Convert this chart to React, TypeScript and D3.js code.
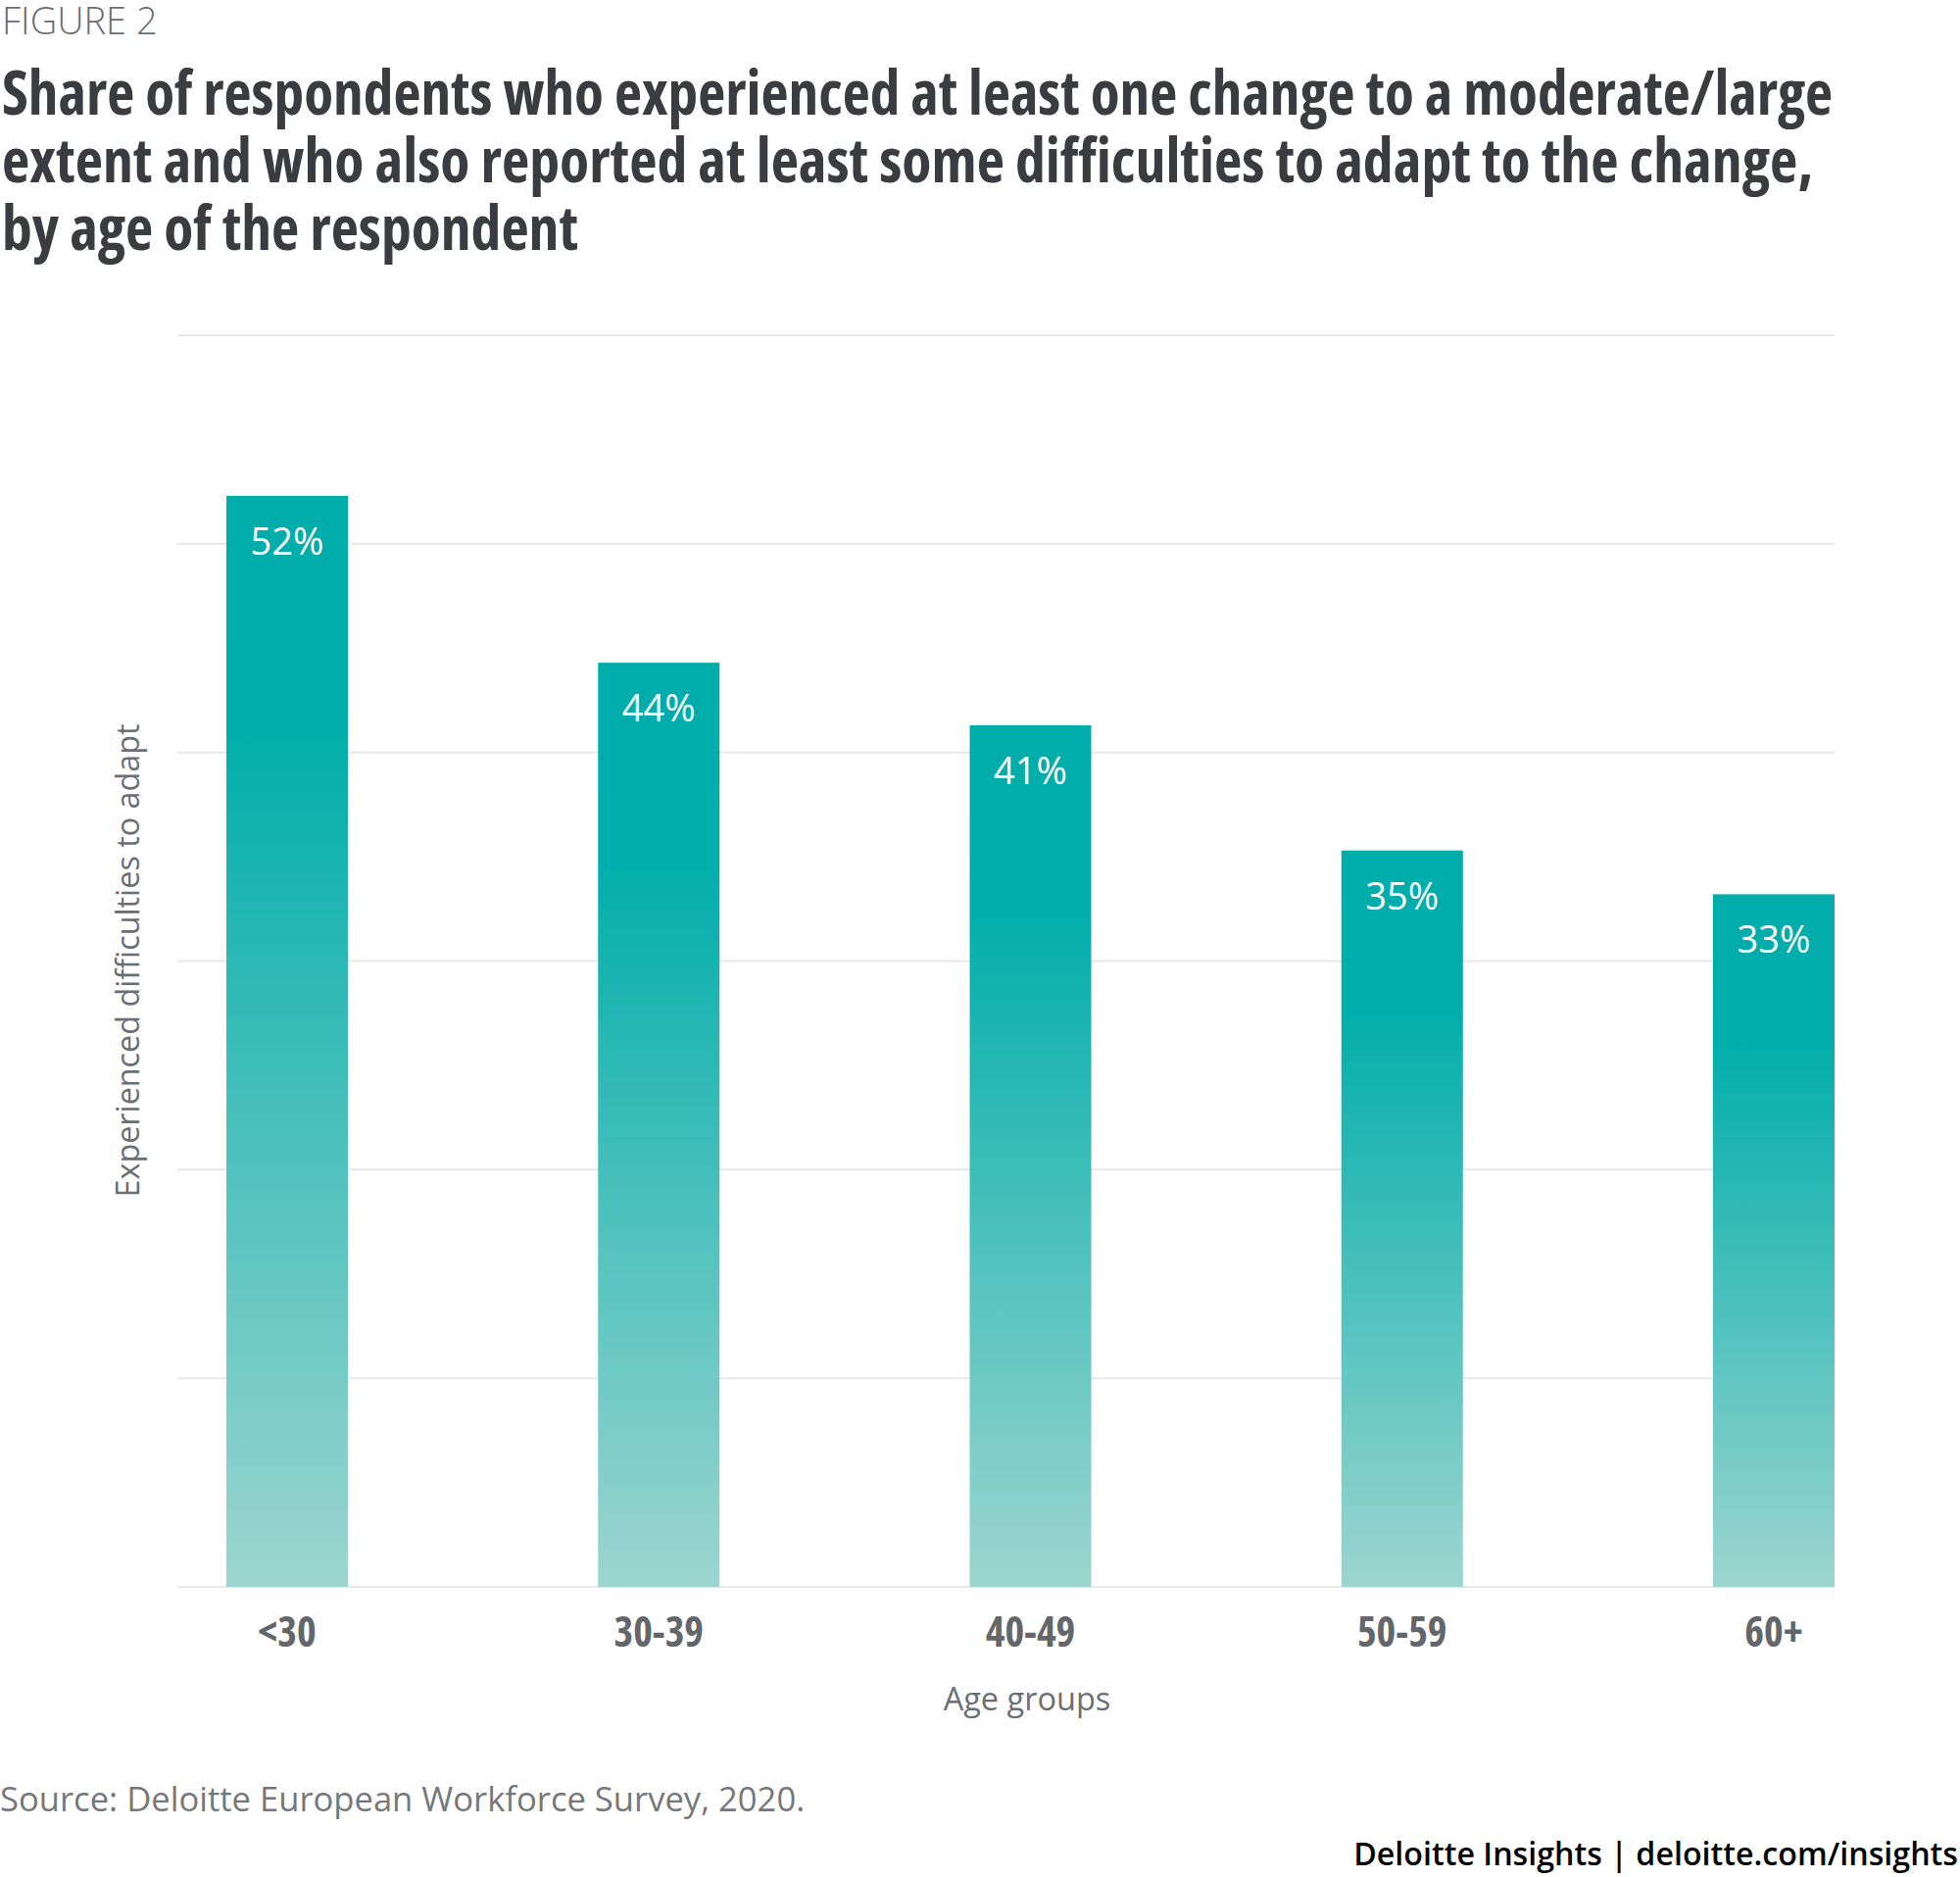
import React, { useRef, useEffect } from 'react';
import * as d3 from 'd3';

// data
const ageGroups = ['<30', '30-39', '40-49', '50-59', '60+'];
const shareValues = [52.3, 44.3, 41.3, 35.3, 33.2];
const gridTicks = [0, 10, 20, 30, 40, 50, 60];
const titleLines = [
  'Share of respondents who experienced at least one change to a moderate/large',
  'extent and who also reported at least some difficulties to adapt to the change,',
  'by age of the respondent',
];
const titleWidths = [1868, 1848, 588];

const W = 2000;
const H = 1915;

export default function App() {
  const svgRef = useRef<SVGSVGElement>(null);

  useEffect(() => {
    const svg = d3.select(svgRef.current);
    svg.selectAll('*').remove();

    const plot = { left: 181, right: 1872, top: 342, bottom: 1619 };

    const x = d3.scaleBand()
      .domain(ageGroups)
      .range([231, plot.right])
      .paddingInner(0.673)
      .paddingOuter(0);

    const y = d3.scaleLinear()
      .domain([0, 60])
      .range([plot.bottom, plot.top]);

    // gradient for bars
    const defs = svg.append('defs');
    const grad = defs.append('linearGradient')
      .attr('id', 'barGrad')
      .attr('x1', 0).attr('y1', 0).attr('x2', 0).attr('y2', 1);
    grad.append('stop').attr('offset', '0%').attr('stop-color', '#00ADAA');
    grad.append('stop').attr('offset', '22%').attr('stop-color', '#02AEAB');
    grad.append('stop').attr('offset', '100%').attr('stop-color', '#9DD5CF');

    svg.append('rect').attr('width', W).attr('height', H).attr('fill', '#fff');

    // header
    svg.append('text')
      .attr('x', 2)
      .attr('y', 35)
      .attr('font-family', '"Open Sans", sans-serif')
      .attr('font-weight', 300)
      .attr('font-size', 38)
      .attr('fill', '#6B6E73')
      .text('FIGURE 2');

    svg.append('g')
      .selectAll('text')
      .data(titleLines)
      .enter()
      .append('text')
      .attr('x', 2)
      .attr('y', (_, i) => 117 + i * 69)
      .attr('font-family', '"Open Sans", sans-serif')
      .attr('font-weight', 700)
      .attr('font-stretch', 'condensed')
      .attr('font-size', 62)
      .attr('fill', '#3B3C40')
      .attr('textLength', (_, i) => titleWidths[i])
      .attr('lengthAdjust', 'spacingAndGlyphs')
      .text(d => d);

    // gridlines
    const g = svg.append('g');
    g.selectAll('line.grid')
      .data(gridTicks)
      .enter()
      .append('line')
      .attr('class', 'grid')
      .attr('x1', plot.left)
      .attr('x2', plot.right)
      .attr('y1', d => y(d))
      .attr('y2', d => y(d))
      .attr('stroke', '#E8E8E8')
      .attr('stroke-width', 2);

    // bars
    g.selectAll('rect.bar')
      .data(shareValues)
      .enter()
      .append('rect')
      .attr('class', 'bar')
      .attr('x', (_, i) => x(ageGroups[i]) ?? 0)
      .attr('y', d => y(d))
      .attr('width', x.bandwidth())
      .attr('height', d => plot.bottom - y(d))
      .attr('fill', 'url(#barGrad)');

    // value labels
    g.selectAll('text.val')
      .data(shareValues)
      .enter()
      .append('text')
      .attr('class', 'val')
      .attr('x', (_, i) => (x(ageGroups[i]) ?? 0) + x.bandwidth() / 2)
      .attr('y', d => y(d) + 60)
      .attr('text-anchor', 'middle')
      .attr('font-family', '"Open Sans", sans-serif')
      .attr('font-size', 38)
      .attr('fill', '#fff')
      .text(d => `${Math.round(d)}%`);

    // x axis tick labels
    g.selectAll('text.tick')
      .data(ageGroups)
      .enter()
      .append('text')
      .attr('class', 'tick')
      .attr('x', d => (x(d) ?? 0) + x.bandwidth() / 2)
      .attr('y', 1680)
      .attr('text-anchor', 'middle')
      .attr('font-family', '"Open Sans", sans-serif')
      .attr('font-weight', 700)
      .attr('font-stretch', 'condensed')
      .attr('font-size', 42)
      .attr('fill', '#63666A')
      .text(d => d);

    // axis titles
    svg.append('text')
      .attr('x', 1048)
      .attr('y', 1745)
      .attr('text-anchor', 'middle')
      .attr('font-family', '"Open Sans", sans-serif')
      .attr('font-size', 32.5)
      .attr('fill', '#6B6E73')
      .text('Age groups');

    svg.append('text')
      .attr('transform', `translate(142,980) rotate(-90)`)
      .attr('text-anchor', 'middle')
      .attr('font-family', '"Open Sans", sans-serif')
      .attr('font-size', 32.3)
      .attr('fill', '#6B6E73')
      .text('Experienced difficulties to adapt');

    // footer
    svg.append('text')
      .attr('x', 0)
      .attr('y', 1848)
      .attr('font-family', '"Open Sans", sans-serif')
      .attr('font-size', 34.6)
      .attr('fill', '#75787B')
      .text('Source: Deloitte European Workforce Survey, 2020.');

    svg.append('text')
      .attr('x', 1998)
      .attr('y', 1903)
      .attr('text-anchor', 'end')
      .attr('font-family', '"Open Sans", sans-serif')
      .attr('font-weight', 600)
      .attr('font-size', 32.2)
      .attr('fill', '#000')
      .text('Deloitte Insights | deloitte.com/insights');
  }, []);

  return (
    <svg
      ref={svgRef}
      width={W}
      height={H}
      style={{ position: 'absolute', left: 0, top: 0 }}
    />
  );
}
